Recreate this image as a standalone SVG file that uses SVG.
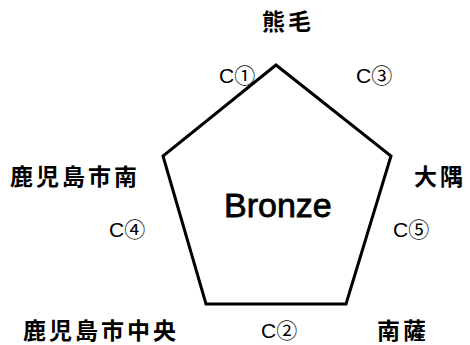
<svg xmlns="http://www.w3.org/2000/svg" width="470" height="345" viewBox="0 0 470 345">
<style>
.cjk{font-family:"Noto Sans CJK JP","Noto Sans CJK SC",sans-serif;font-weight:bold;font-size:23px;letter-spacing:3px;fill:#000}
.c{font-family:"Liberation Sans","Noto Sans CJK JP",sans-serif;font-size:21px;fill:#000}
.big{font-family:"Liberation Sans",Arial,sans-serif;font-size:34px;fill:#000;stroke:#000;stroke-width:0.8px}
</style>
<rect width="470" height="345" fill="#fff"/>
<g id="pentagon">
<polygon points="276,65 391,156 346,304 206,304 163,156" fill="#fff" stroke="#000" stroke-width="3" stroke-linejoin="miter"/>
<text class="big" x="224" y="217">Bronze</text>
</g>
<g id="kumage"><text class="cjk" x="262" y="30">熊毛</text></g>
<g id="kagoshima-minami"><text class="cjk" x="10" y="185">鹿児島市南</text></g>
<g id="osumi"><text class="cjk" x="414" y="185">大隅</text></g>
<g id="kagoshima-chuo"><text class="cjk" x="23" y="339">鹿児島市中央</text></g>
<g id="nansatsu"><text class="cjk" x="377" y="339">南薩</text></g>
<g id="labels">
<text class="c" x="219" y="83">C①</text>
<text class="c" x="356" y="83">C③</text>
<text class="c" x="109" y="237">C④</text>
<text class="c" x="393" y="237">C⑤</text>
<text class="c" x="261" y="338">C②</text>
</g>
</svg>
